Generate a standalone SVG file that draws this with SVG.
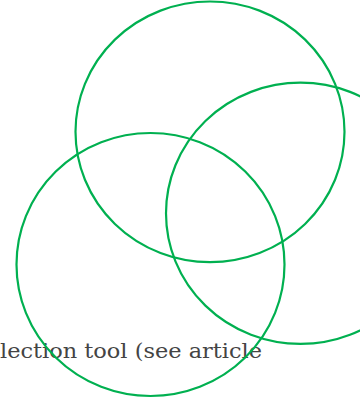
<svg xmlns="http://www.w3.org/2000/svg" width="360" height="402" viewBox="0 0 360 402">
<style>
.c{fill:none;stroke:#00b050;stroke-width:2.2}
.t{font-family:"DejaVu Serif","Liberation Serif",serif;font-size:19.5px;fill:#444}
</style>
<rect width="360" height="402" fill="#fff"/>
<text class="t" x="0" y="358" textLength="262" lengthAdjust="spacingAndGlyphs">lection tool (see article</text>
<g id="circle-top"><ellipse class="c" cx="210" cy="131.8" rx="134.5" ry="130.3"/></g>
<g id="circle-right"><ellipse class="c" cx="300.5" cy="213.3" rx="134.5" ry="130.6"/></g>
<g id="circle-left"><ellipse class="c" cx="150.5" cy="264.5" rx="134" ry="131.5"/></g>
<g id="connectors"></g>
</svg>
